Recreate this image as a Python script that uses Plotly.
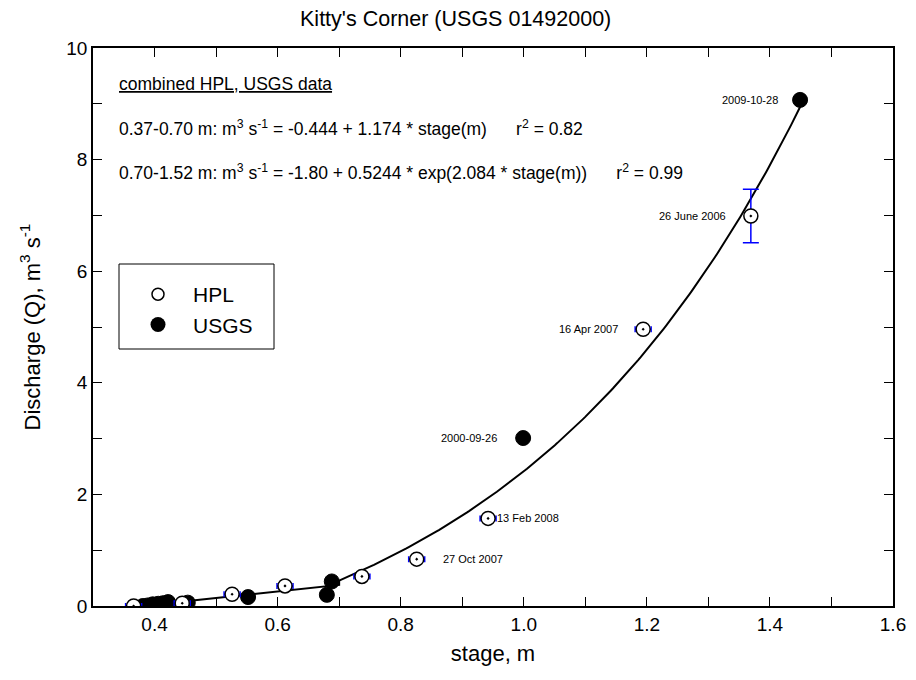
import numpy as np
import plotly.graph_objects as go

# HPL measurements
hpl_stage = [0.366, 0.445, 0.526, 0.612, 0.737, 0.826, 0.942, 1.194, 1.369]
hpl_q = [0.0, 0.05, 0.21, 0.36, 0.53, 0.84, 1.57, 4.96, 6.99]
hpl_err_x = [0.013, 0.013, 0.013, 0.013, 0.013, 0.013, 0.013, 0.013, 0.0]
hpl_err_y = [0.0, 0.0, 0.0, 0.0, 0.0, 0.0, 0.0, 0.0, 0.48]

# USGS measurements
usgs_stage = [0.381, 0.389, 0.397, 0.406, 0.414, 0.422, 0.454, 0.552, 0.680, 0.688, 0.999, 1.449]
usgs_q = [0.0, 0.01, 0.03, 0.04, 0.05, 0.07, 0.06, 0.16, 0.20, 0.44, 3.01, 9.07]

# point labels
lab_stage = [1.449, 1.369, 1.194, 0.999, 0.942, 0.826]
lab_q = [9.07, 6.99, 4.96, 3.01, 1.57, 0.84]
lab_text = ["2009-10-28", "26 June 2006", "16 Apr 2007", "2000-09-26", "13 Feb 2008", "27 Oct 2007"]

# fit coefficients (from chart text)
lin_a, lin_b = -0.444, 1.174
exp_a, exp_b, exp_c = -1.80, 0.5244, 2.084
lin_range = (0.366, 0.70)
exp_range = (0.70, 1.45)

FONT = "Liberation Sans, Arial, sans-serif"

fig = go.Figure()

s1 = np.linspace(*lin_range, 20)
s2 = np.linspace(*exp_range, 200)
fit_x = np.concatenate([s1, s2])
fit_y = np.concatenate([lin_a + lin_b * s1, exp_a + exp_b * np.exp(exp_c * s2)])
fig.add_trace(go.Scatter(x=fit_x, y=fit_y, mode="lines",
                         line=dict(color="black", width=2), showlegend=False, hoverinfo="skip"))

fig.add_trace(go.Scatter(
    x=usgs_stage, y=usgs_q, mode="markers", showlegend=False,
    marker=dict(symbol="circle", size=15, color="black", line=dict(color="black", width=1))))

fig.add_trace(go.Scatter(
    x=hpl_stage, y=hpl_q, mode="markers", showlegend=False,
    marker=dict(symbol="circle-dot", size=14, color="white", line=dict(color="black", width=1.5)),
    error_x=dict(type="data", array=hpl_err_x, color="blue", thickness=1.5, width=3),
    error_y=dict(type="data", array=hpl_err_y, color="blue", thickness=1.5, width=8)))

# legend-only entries
fig.add_trace(go.Scatter(x=[None], y=[None], mode="markers", name="HPL",
                         marker=dict(symbol="circle", size=12, color="white",
                                     line=dict(color="black", width=1.5))))
fig.add_trace(go.Scatter(x=[None], y=[None], mode="markers", name="USGS",
                         marker=dict(symbol="circle", size=15, color="black")))

# label placement (pixel shifts): negative = text to the left of point
lab_shift = [-20, -23, -23, -24, 7, 24]
for xs, ys, t, sh in zip(lab_stage, lab_q, lab_text, lab_shift):
    fig.add_annotation(x=xs, y=ys, text=t, showarrow=False,
                       xanchor="right" if sh < 0 else "left", yanchor="middle",
                       xshift=sh, font=dict(family=FONT, size=11, color="black"))

eq_font = dict(family=FONT, size=17.5, color="black")
fig.add_annotation(xref="paper", yref="paper", x=0.03, y=0.935, xanchor="left", yanchor="middle",
                   showarrow=False, text="<u>combined HPL, USGS data</u>", font=eq_font)
fig.add_annotation(xref="paper", yref="paper", x=0.03, y=0.857, xanchor="left", yanchor="middle",
                   showarrow=False,
                   text="0.37-0.70 m: m<sup>3</sup> s<sup>-1</sup> = -0.444 + 1.174 * stage(m)      r<sup>2</sup> = 0.82",
                   font=eq_font)
fig.add_annotation(xref="paper", yref="paper", x=0.03, y=0.778, xanchor="left", yanchor="middle",
                   showarrow=False,
                   text="0.70-1.52 m: m<sup>3</sup> s<sup>-1</sup> = -1.80 + 0.5244 * exp(2.084 * stage(m))      r<sup>2</sup> = 0.99",
                   font=eq_font)

# legend frame (plot area: 800 x 558 px)
fig.add_shape(type="rect", xref="paper", yref="paper",
              x0=(119 - 93) / 800, x1=(274 - 93) / 800,
              y0=(606 - 349) / 558, y1=(606 - 264) / 558,
              line=dict(color="black", width=1), fillcolor="rgba(0,0,0,0)")

fig.update_layout(
    width=908, height=672,
    margin=dict(l=85, r=23, t=40, b=74, autoexpand=False),
    paper_bgcolor="white", plot_bgcolor="white",
    font=dict(family=FONT, color="black"),
    title=dict(text="Kitty's Corner (USGS 01492000)", x=0.493, xanchor="center",
               y=0.985, yanchor="middle", font=dict(family=FONT, size=21.5)),
    legend=dict(x=(123 - 93) / 800, y=(606 - 274) / 558, xanchor="left", yanchor="top",
                borderwidth=0, bgcolor="rgba(0,0,0,0)", itemwidth=60,
                font=dict(family=FONT, size=21)),
    xaxis=dict(range=[0.3, 1.6], dtick=0.2, tick0=0.4, tickformat=".1f",
               showline=True, linecolor="black", linewidth=1.5, mirror="ticks",
               ticks="inside", ticklen=9, tickcolor="black",
               minor=dict(ticks="inside", dtick=0.1, ticklen=9, tickcolor="black"),
               showgrid=False, zeroline=False, automargin=False,
               tickfont=dict(family=FONT, size=19),
               title=dict(text="stage, m", font=dict(family=FONT, size=22), standoff=12)),
    yaxis=dict(range=[0, 10], dtick=2,
               showline=True, linecolor="black", linewidth=1.5, mirror="ticks",
               ticks="inside", ticklen=9, tickcolor="black",
               minor=dict(ticks="inside", dtick=1, ticklen=9, tickcolor="black"),
               showgrid=False, zeroline=False, automargin=False,
               tickfont=dict(family=FONT, size=19),
               title=dict(text="Discharge (Q), m<sup>3</sup> s<sup>-1</sup>",
                          font=dict(family=FONT, size=22), standoff=20)),
)

fig.write_html("out.html")
